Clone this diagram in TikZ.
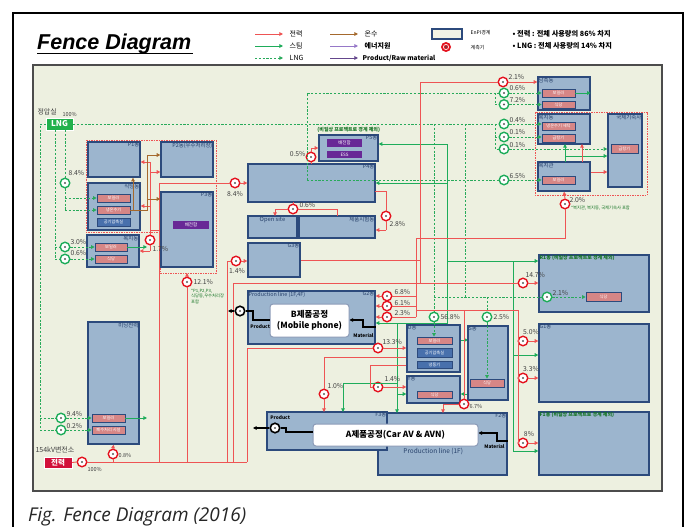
\documentclass[tikz,border=0pt]{standalone}
\usepackage{fontspec}
\setmainfont{Noto Sans CJK KR}
\newfontfamily\arialf{Liberation Sans}
\newfontfamily\capf{Open Sans}
\usetikzlibrary{arrows.meta,calc}
\definecolor{panel}{RGB}{237,240,224}
\definecolor{boxf}{RGB}{156,181,206}
\definecolor{boxb}{RGB}{44,74,124}
\definecolor{pinkf}{RGB}{214,134,134}
\definecolor{bluef}{RGB}{72,112,172}
\definecolor{purpf}{RGB}{104,40,150}
\definecolor{pred}{RGB}{238,84,84}
\definecolor{mred}{RGB}{228,18,30}
\definecolor{sgreen}{RGB}{30,172,90}
\definecolor{lngg}{RGB}{40,170,90}
\definecolor{lngbox}{RGB}{34,177,76}
\definecolor{brn}{RGB}{165,105,45}
\definecolor{gtxt}{RGB}{20,115,35}
\definecolor{lav}{RGB}{150,120,200}
\definecolor{dpurp}{RGB}{100,70,140}
\definecolor{pwbox}{RGB}{210,16,58}
\newcommand\bx[7]{\node[#6,minimum width={#4pt-#2pt},minimum height={#5pt-#3pt}] (#1) at ({(#2+#4)/2},{(#3+#5)/2}) {#7};}
\begin{document}
\begin{tikzpicture}[x=1pt,y=-1pt,
 box/.style={draw=boxb,fill=boxf,line width=1.4pt,inner sep=0pt},
 pinkb/.style={draw=boxb,fill=pinkf,line width=0.7pt,text=white,inner sep=0pt,font=\fontsize{4.2}{4.5}\selectfont},
 blueb/.style={pinkb,fill=bluef},
 purpb/.style={pinkb,draw=none,fill=purpf,font=\fontsize{4.5}{5}\selectfont},
 whiteb/.style={draw=boxb!55,fill=white,line width=1pt,rounded corners=3pt,inner sep=0pt,font=\bfseries\fontsize{8.5}{10.5}\selectfont,align=center},
 lbl/.style={font=\fontsize{5.4}{5.7}\selectfont,text=boxb!85!black,inner sep=1.2pt},
 glbl/.style={font=\bfseries\fontsize{5}{5.5}\selectfont,text=gtxt,inner sep=1.2pt},
 pct/.style={font=\fontsize{6.8}{7}\selectfont,text=black!75,inner sep=0.3pt},
 leg/.style={font=\fontsize{7}{7}\selectfont,inner sep=0.5pt,anchor=west},
 pw/.style={draw=pred,line width=0.9pt},
 st/.style={draw=sgreen,line width=0.9pt},
 lng/.style={draw=lngg,line width=0.8pt,dash pattern=on 2.2pt off 1.6pt},
 hw/.style={draw=brn,line width=0.9pt},
 blk/.style={draw=black,line width=1.2pt},
 arr/.style={-{Triangle[length=3.6pt,width=3.6pt]}},
 rm/.style={circle,draw=mred,line width=1.4pt,fill=white,minimum size=9.5pt,inner sep=0pt,path picture={\fill[black!65] (path picture bounding box.center) circle (1.1pt);}},
 gm/.style={rm,draw=sgreen},
 bm/.style={rm,draw=black,line width=1.6pt},
 ebound/.style={draw=pred,line width=0.7pt,dash pattern=on 1.5pt off 1pt}
]
\useasboundingbox (0,0) rectangle (688,527);
\fill[white] (0,0) rectangle (688,527);
\draw[black,line width=1.6pt] (13,540) -- (13,13) -- (683,13) -- (683,540);
\draw[fill=panel,draw=gray!60!black,line width=1.2pt] (33,65) rectangle (662,491);

% title
\node[anchor=base west,inner sep=0pt,font=\arialf\bfseries\itshape\fontsize{21.5}{22}\selectfont] (title) at (37,50) {Fence Diagram};
\draw[line width=1.3pt] (37,53.5) -- (193,53.5);

% legend
\draw[pw,arr] (255,34) -- (283,34); \node[leg] (lg1) at (289,34) {전력};
\draw[st,arr] (255,46) -- (283,46); \node[leg] (lg2) at (289,46) {스팀};
\draw[lng,arr] (255,58) -- (283,58); \node[leg] (lg3) at (289,58) {LNG};
\draw[hw,arr] (330,34) -- (358,34); \node[leg] (lg4) at (364,34) {온수};
\draw[draw=lav,line width=0.9pt,arr] (330,46) -- (358,46); \node[leg,font=\bfseries\fontsize{7}{7}\selectfont] (lg5) at (364,46) {에너지원};
\draw[draw=dpurp,line width=0.9pt,arr] (330,58) -- (358,58); \node[leg,font=\bfseries\fontsize{6.5}{7}\selectfont] (lg6) at (362,58) {Product/Raw material};
\node[box,fill=panel!80!white,minimum width=30pt,minimum height=10pt] (lgbox) at (447,34) {};
\node[leg,font=\fontsize{5}{5}\selectfont] (lg7) at (470,33) {EnPI경계};
\fill[mred] (446,47) circle (5pt); \draw[white,line width=0.6pt] (446,47) circle (2.6pt); \fill[black!70] (446,47) circle (1.2pt);
\node[leg,font=\fontsize{5}{5}\selectfont] (lg8) at (470,48) {계측기};
\node[leg,font=\bfseries\fontsize{7.2}{7.5}\selectfont] (lg9) at (512,34) {• 전력 : 전체 사용량의 86\% 차지};
\node[leg,font=\bfseries\fontsize{7.2}{7.5}\selectfont] (lg10) at (512,46) {• LNG : 전체 사용량의 14\% 차지};

% EnPI boundaries (red dotted)
\draw[ebound] (86,140) -- (216,140) -- (216,273) -- (160,273) -- (160,232) -- (86,232) -- cycle;
\draw[ebound] (535,112) rectangle (647,195);

% lines behind boxes
\draw[st] (447,323) -- (447,340);
\draw[st,arr] (447,340) -- (468,340);
\draw[pw] (300,260) -- (420,260);

% ---------- boxes ----------
\bx{P1}{88}{142}{140}{177}{box,label={[lbl,anchor=north east]north east:P1동}}{}
\bx{P2}{161}{142}{213}{177}{box,label={[lbl,anchor=north east]north east:P2동(우수처리장)}}{}
\bx{Sik}{88}{183}{140}{230}{box,label={[lbl,anchor=north east]north east:식당동}}{}
\bx{boilA}{97}{194}{130}{202}{pinkb}{보일러}
\bx{coldA}{97}{206}{130}{214}{pinkb}{냉온수기}
\bx{airA}{97}{218}{130}{226}{blueb}{공기압축실}
\bx{P3}{161}{192}{213}{267}{box,label={[lbl,anchor=north east]north east:P3동}}{}
\bx{P3e}{173}{221}{209}{229}{purpb}{배전함}
\bx{Bok}{87}{235}{139}{267}{box,label={[lbl,anchor=north east]north east:복지동}}{}
\bx{boilB}{95}{243}{127}{251}{pinkb}{보일러}
\bx{sikB}{95}{255}{127}{263}{pinkb}{식당}
\bx{Mi}{88}{322}{139}{444}{box,label={[lbl,anchor=north east]north east:미닝전력}}{}
\bx{boilC}{92}{414}{125}{422}{pinkb}{보일러}
\bx{waste}{92}{426}{125}{434}{pinkb}{폐수처리 시설}
\bx{Pw}{44}{457}{72}{468}{draw=white,line width=0.4pt,fill=pwbox,text=white,font=\bfseries\fontsize{7.5}{8}\selectfont,inner sep=0pt}{전력}
\bx{LNG}{46}{118}{73}{130}{draw=white,line width=0.4pt,fill=lngbox,text=white,font=\bfseries\fontsize{8}{8}\selectfont,inner sep=0pt}{LNG}

\bx{P4}{248}{164}{375}{202}{box,label={[lbl,anchor=north east]north east:P4동}}{}
\bx{P5}{319}{135}{378}{161}{box,label={[lbl,anchor=north east]north east:P5동}}{}
\bx{P5a}{327}{139}{362}{147}{purpb}{배전함}
\bx{P5b}{327}{151}{362}{158}{purpb}{ESS}
\bx{Open}{248}{216}{297}{238}{box,label={[lbl,anchor=north,font=\fontsize{5.8}{6}\selectfont]north:Open site}}{}
\bx{Jep}{299}{216}{375}{238}{box,label={[lbl,anchor=north east]north east:제품시험동}}{}
\bx{G3}{248}{243}{300}{277}{box,label={[lbl,anchor=north east]north east:G3동}}{}
\bx{G2}{248}{291}{375}{344}{box,label={[lbl,anchor=north east]north east:G2동},label={[lbl,anchor=north west]north west:{Production line (1F,4F)}}}{}
\bx{Bw}{270}{304}{349}{337}{whiteb}{B제품공정\\(Mobile phone)}
\bx{U}{407}{325}{460}{372}{box,label={[lbl,anchor=north west]north west:U동}}{}
\bx{ub1}{417}{337}{452}{344}{pinkb}{보일러}
\bx{ub2}{417}{348}{452}{357}{blueb}{공기압축실}
\bx{ub3}{417}{361}{452}{368}{blueb}{냉동기}
\bx{Y}{407}{376}{460}{403}{box,label={[lbl,anchor=north west]north west:Y동}}{}
\bx{ys}{417}{391}{452}{398}{pinkb}{식당}
\bx{S}{468}{326}{508}{400}{box,label={[lbl,anchor=north west]north west:S동}}{}
\bx{ss}{470}{379}{504}{387}{pinkb}{식당}
\bx{F2}{378}{413}{507}{475}{box,label={[lbl,anchor=north east]north east:F2동}}{}
\bx{F3}{267}{412}{387}{450}{box,label={[lbl,anchor=north east]north east:F3동}}{}
\node[lbl,anchor=west,font=\fontsize{6.5}{7}\selectfont] (F2pl) at (402,451) {Production line (1F)};
\bx{Aw}{313}{424}{478}{446}{whiteb}{A제품공정(Car AV \& AVN)}
\node[lbl,anchor=west,text=black,font=\bfseries\fontsize{4.8}{5}\selectfont] (prodB) at (249,327) {Product};
\node[lbl,anchor=west,text=black,font=\bfseries\fontsize{4.8}{5}\selectfont] (matB) at (352,336) {Material};
\node[lbl,anchor=west,text=black,font=\bfseries\fontsize{4.8}{5}\selectfont] (prodA) at (269,418) {Product};
\node[lbl,anchor=west,text=black,font=\bfseries\fontsize{4.8}{5}\selectfont] (matA) at (483,447) {Material};

\bx{R1}{539}{255}{649}{312}{box,label={[glbl,anchor=north west]north west:R1동 (비일상 프로젝트로 경계 제외)}}{}
\bx{rs}{586}{292}{621}{301}{pinkb}{식당}
\bx{G1}{539}{324}{649}{402}{box,label={[lbl,anchor=north west]north west:G1동}}{}
\bx{F1}{539}{412}{649}{475}{box,label={[glbl,anchor=north west]north west:F1동 (비일상 프로젝트로 경계 제외)}}{}

\bx{NC}{538}{77}{590}{110}{box,label={[lbl,anchor=north west]north west:남측동}}{}
\bx{nb1}{542}{89}{575}{97}{pinkb}{보일러}
\bx{ns1}{542}{101}{575}{108}{pinkb}{식당}
\bx{WB}{538}{114}{590}{144}{box,label={[lbl,anchor=north west]north west:복지동}}{}
\bx{wb1}{542}{122}{575}{130}{pinkb}{냉온수기 세탁}
\bx{wb2}{542}{134}{575}{142}{pinkb}{급탕기}
\bx{WK}{538}{162}{590}{191}{box,label={[lbl,anchor=north west]north west:복지관}}{}
\bx{wk1}{542}{176}{575}{184}{pinkb}{보일러}
\bx{GK}{608}{114}{642}{187}{box,label={[lbl,anchor=north east]north east:국제기숙사}}{}
\bx{gk1}{611}{144}{638}{153}{pinkb}{급탕기}
\node[glbl,anchor=west] (p5note) at (316,130) {(비일상 프로젝트로 경계 제외)};

% ---------- meters ----------
\node[gm] (g84) at (65,183) {};
\node[gm] (g30) at (65,247) {};
\node[gm] (g06) at (65,259) {};
\node[gm] (g94) at (61,418) {};
\node[gm] (g02) at (61,430) {};
\node[rm] (r100) at (82,462) {};
\node[rm] (r08) at (113,454) {};
\node[rm] (r17) at (150,240) {};
\node[rm] (r121) at (187,282) {};
\node[rm] (r84) at (235,183) {};
\node[rm] (r14a) at (236,261) {};
\node[rm] (r05) at (311,157) {};
\node[rm] (r06) at (293,209) {};
\node[rm] (r28) at (386,216) {};
\node[rm] (r68) at (387,296) {};
\node[rm] (r61) at (387,306) {};
\node[rm] (r23) at (387,317) {};
\node[gm] (g568) at (434,317) {};
\node[rm] (r133) at (378,348) {};
\node[rm] (r10) at (324,394) {};
\node[rm] (r14b) at (378,387) {};
\node[rm] (r67) at (464,404) {};
\node[gm] (g25) at (487,317) {};
\node[rm] (r147) at (523,283) {};
\node[gm] (g21) at (547,297) {};
\node[rm] (r50) at (523,341) {};
\node[rm] (r33) at (523,378) {};
\node[rm] (r8) at (523,443) {};
\node[rm] (r21) at (503,82) {};
\node[gm] (g06b) at (504,93) {};
\node[gm] (g72) at (504,104.5) {};
\node[gm] (g04) at (504,124) {};
\node[gm] (g01a) at (504,137) {};
\node[gm] (g01b) at (504,149) {};
\node[gm] (g65) at (504,180) {};
\node[rm] (r20) at (565,204) {};
\node[bm] (bp) at (240,311) {};
\node[bm] (ap) at (275,428) {};

% ---------- LNG ----------
\draw[lng] (LNG.east) -- (g04.west);
\draw[lng] (65,130) -- (g84.north);
\draw[lng] (g84.south) -- (65,210);
\draw[lng,arr] (65,198) -- (boilA.west);
\draw[lng,arr] (65,210) -- (coldA.west);
\draw[lng] (55,130) -- (55,259);
\draw[lng] (55,247) -- (g30.west);
\draw[lng] (55,259) -- (g06.west);
\draw[lng,arr] (g30.east) -- (boilB.west);
\draw[lng,arr] (g06.east) -- (sikB.west);
\draw[lng] (LNG.west) -- (40,124) -- (40,430);
\draw[lng] (40,418) -- (g94.west);
\draw[lng] (40,430) -- (g02.west);
\draw[lng,arr] (g94.east) -- (boilC.west);
\draw[lng,arr] (g02.east) -- (waste.west);
\draw[lng] (307,180) -- (307,93) -- (g06b.west);
\draw[lng] (307,180) -- (g65.west);
\draw[lng] (495,93) -- (495,104.5) -- (g72.west);
\draw[lng] (495,124) -- (495,149) -- (g01b.west);
\draw[lng] (495,137) -- (g01a.west);
\draw[lng,arr] (g06b.east) -- (nb1.west);
\draw[lng,arr] (g72.east) -- (ns1.west);
\draw[lng,arr] (g04.east) -- (g04.east -| wb1.west);
\draw[lng,arr] (g01a.east) -- (g01a.east -| wb2.west);
\draw[lng,arr] (g01b.east) -- (g01b.east -| GK.west);
\draw[lng,arr] (g65.east) -- (wk1.west);
\draw[lng] (434,124) -- (g568.north);
\draw[lng,arr] (g568.south) -- (g568.south |- ub1.north);
\draw[lng] (465,124) -- (465,297);
\draw[lng] (434,297) -- (g21.west);
\draw[lng,arr] (g21.east) -- (g21.east -| rs.west);
\draw[lng] (487,297) -- (g25.north);
\draw[lng,arr] (g25.south) -- (g25.south |- ss.north);

% ---------- steam ----------
\draw[st,arr] (boilB.east) -- (147,247);
\draw[st,arr] (boilC.east) -- (147,418);
\draw[st,arr] (nb1.east) -- (nb1.east -| NC.east);
\draw[st] (447,144) -- (447,323);
\draw[st,arr] (447,144) -- (P5.east |- 447,144);
\draw[st,arr] (447,183) -- (P4.east |- 447,183);
\draw[st,arr] (447,323) -- (G2.east |- 447,323);
\draw[st,arr] (447,261) -- (R1.west |- 447,261);
\draw[st] (513,261) -- (513,451);
\draw[st,arr] (513,355) -- (G1.west |- 513,355);
\draw[st,arr] (513,451) -- (F1.west |- 513,451);
\draw[st,arr] (S.west |- 468,394) -- (Y.east |- 468,394);
\draw[st,arr] (397,323) -- (397,413);
\draw[st] (397,383) -- (343,383);
\draw[st,arr] (343,383) -- (343,412);
\draw[st,arr] (397,394) -- (Y.west |- 397,394);
\draw[st,arr] (565,162) -- (565,144);
\draw[st,arr] (565,156) -- (GK.west |- 565,156);

% ---------- power ----------
\draw[pw] (Pw.east) -- (r100.west);
\draw[pw] (r100.east) -- (247,462);
\draw[pw] (113,462) -- (r08.south);
\draw[pw,arr] (r08.north) -- (Mi.south);
\draw[pw] (159,462) -- (159,183) -- (r84.west);
\draw[pw,arr] (r84.east) -- (P4.west |- r84.east);
\draw[pw] (159,230) -- (150,230);
\draw[pw] (150,162) -- (r17.north);
\draw[pw] (r17.south) -- (150,251);
\draw[pw,arr] (150,251) -- (Bok.east |- 150,251);
\draw[pw,arr] (150,162) -- (P1.east |- 150,162);
\draw[pw,arr] (150,172) -- (P2.west |- 150,172);
\draw[pw,arr] (150,206) -- (Sik.east |- 150,206);
\draw[pw] (187,462) -- (r121.south);
\draw[pw,arr] (r121.north) -- (187,273);
\draw[pw] (227,462) -- (227,261) -- (r14a.west);
\draw[pw,arr] (r14a.east) -- (G3.west |- r14a.east);
\draw[pw] (233,462) -- (233,283) -- (r147.west);
\draw[pw,arr] (r147.east) -- (R1.west |- r147.east);
\draw[pw] (420,283) -- (420,82) -- (r21.west);
\draw[pw,arr] (r21.east) -- (NC.west |- r21.east);
\draw[pw] (247,462) -- (247,348) -- (r133.west);
\draw[pw,arr] (r133.east) -- (U.west |- r133.east);
\draw[pw] (416,238) -- (416,317);
\draw[pw] (416,296) -- (r68.east);
\draw[pw] (416,306) -- (r61.east);
\draw[pw] (416,317) -- (r23.east);
\draw[pw,arr] (r68.west) -- (G2.east |- r68.west);
\draw[pw,arr] (r61.west) -- (G2.east |- r61.west);
\draw[pw,arr] (r23.west) -- (G2.east |- r23.west);
\draw[pw] (416,238) -- (565,238) -- (r20.south);
\draw[pw,arr] (r20.north) -- (WK.south);
\draw[pw] (416,310) -- (518,310) -- (518,443);
\draw[pw] (518,341) -- (r50.west);
\draw[pw] (518,378) -- (r33.west);
\draw[pw] (518,443) -- (r8.west);
\draw[pw,arr] (r50.east) -- (G1.west |- r50.east);
\draw[pw,arr] (r33.east) -- (G1.west |- r33.east);
\draw[pw,arr] (r8.east) -- (F1.west |- r8.east);
\draw[pw] (464,310) -- (r67.north);
\draw[pw] (r67.west) -- (443,404);
\draw[pw,arr] (443,404) -- (443,413);
\draw[pw] (U.west |- 407,365) -- (370,365) -- (370,387) -- (r14b.west);
\draw[pw,arr] (r14b.east) -- (Y.west |- r14b.east);
\draw[pw] (U.west |- 407,357) -- (324,357) -- (r10.north);
\draw[pw,arr] (r10.south) -- (324,412);
\draw[pw] (375,191) -- (386,191) -- (r28.north);
\draw[pw] (r28.south) -- (386,230);
\draw[pw,arr] (386,230) -- (Jep.east |- 386,230);
\draw[pw] (293,202) -- (r06.north);
\draw[pw] (r06.west) -- (275,209);
\draw[pw,arr] (275,209) -- (275,216);
\draw[pw] (r06.east) -- (337,209) -- (337,216);
\draw[pw] (311,164) -- (r05.south);
\draw[pw] (r05.north) -- (311,148);
\draw[pw,arr] (311,148) -- (P5.west |- 311,148);
\draw[pw,arr] (582,162) -- (582,144);
\draw[pw,arr] (WK.east |- 590,172) -- (GK.west |- 590,172);

% ---------- hot water ----------
\draw[hw] (coldA.east) -- (147,210) -- (147,155);
\draw[hw,arr] (147,155) -- (P2.west |- 147,155);
\draw[hw,arr] (147,199) -- (P3.west |- 147,199);
\draw[hw,arr] (133,210) -- (P1.south -| 133,210);

% ---------- product / material ----------
\draw[blk] (Bw.west |- 270,320) -- (253,320) -- (253,311) -- (bp.east);
\draw[blk,arr] (bp.west) -- (228,311);
\draw[blk,arr] (G2.east |- 375,327) -- (363,327) -- (363,320) -- (Bw.east |- 363,320);
\draw[blk] (Aw.west |- 313,432) -- (286,432) -- (286,428) -- (ap.east);
\draw[blk,arr] (ap.west) -- (253,428);
\draw[blk,arr] (F2.east |- 507,441) -- (497,441) -- (497,433) -- (Aw.east |- 497,433);

% ---------- texts ----------
\node[pct,anchor=west,font=\fontsize{7}{7}\selectfont] (tjeong) at (37,112) {정압실};
\node[pct,anchor=west,font=\fontsize{5.5}{6}\selectfont] (t100a) at (62,114) {100\%};
\node[pct,anchor=west] at (68,173) {8.4\%};
\node[pct,anchor=west] at (70,242) {3.0\%};
\node[pct,anchor=west] at (70,253) {0.6\%};
\node[pct,anchor=west] at (66,414) {9.4\%};
\node[pct,anchor=west] at (66,426) {0.2\%};
\node[pct,anchor=west,font=\fontsize{7}{7}\selectfont] (t154) at (35,450) {154kV변전소};
\node[pct,anchor=west,font=\fontsize{5.5}{6}\selectfont] at (87,469) {100\%};
\node[pct,anchor=west,font=\fontsize{5.5}{6}\selectfont] at (118,455) {0.8\%};
\node[pct,anchor=west] at (152,249) {1.7\%};
\node[pct,anchor=west] at (193,282) {12.1\%};
\node[anchor=north west,inner sep=0pt,align=left,text=gtxt,font=\fontsize{4.3}{5.2}\selectfont] (note121) at (191,289) {*P1,P2,P3,\\식당동,우수처리장\\포함};
\node[pct] at (235,194) {8.4\%};
\node[pct] at (237,271) {1.4\%};
\node[pct,anchor=east] at (306,154) {0.5\%};
\node[pct,anchor=west] at (299,205) {0.6\%};
\node[pct,anchor=west] at (389,224) {2.8\%};
\node[pct,anchor=west] at (394,292) {6.8\%};
\node[pct,anchor=west] at (394,303) {6.1\%};
\node[pct,anchor=west] at (394,313) {2.3\%};
\node[pct,anchor=west] at (440,317) {56.8\%};
\node[pct,anchor=west] at (382,342) {13.3\%};
\node[pct,anchor=west] at (327,386) {1.0\%};
\node[pct,anchor=west] at (384,379) {1.4\%};
\node[pct,anchor=west,font=\fontsize{5.5}{6}\selectfont] at (469,406) {6.7\%};
\node[pct,anchor=west] at (493,317) {2.5\%};
\node[pct,anchor=west] at (525,275) {14.7\%};
\node[pct,anchor=west] at (552,293) {2.1\%};
\node[pct] at (531,332) {5.0\%};
\node[pct] at (531,369) {3.3\%};
\node[pct] at (529,434) {8\%};
\node[pct,anchor=west] at (508,77) {2.1\%};
\node[pct,anchor=west] at (509,88) {0.6\%};
\node[pct,anchor=west] at (509,100) {7.2\%};
\node[pct,anchor=west] at (509,120) {0.4\%};
\node[pct,anchor=west] at (509,132) {0.1\%};
\node[pct,anchor=west] at (509,145) {0.1\%};
\node[pct,anchor=west] at (509,176) {6.5\%};
\node[pct,anchor=west] at (569,200) {2.0\%};
\node[anchor=west,inner sep=0pt,text=gtxt,font=\fontsize{4.3}{5}\selectfont] (note20) at (571,208) {*복지관, 복지동, 국제기숙사 포함};

% caption
\node[anchor=base west,inner sep=0pt,text=black!85,font=\capf\itshape\fontsize{19}{20}\selectfont] (cap) at (28,521) {Fig. Fence Diagram (2016)};
\end{tikzpicture}
\end{document}
